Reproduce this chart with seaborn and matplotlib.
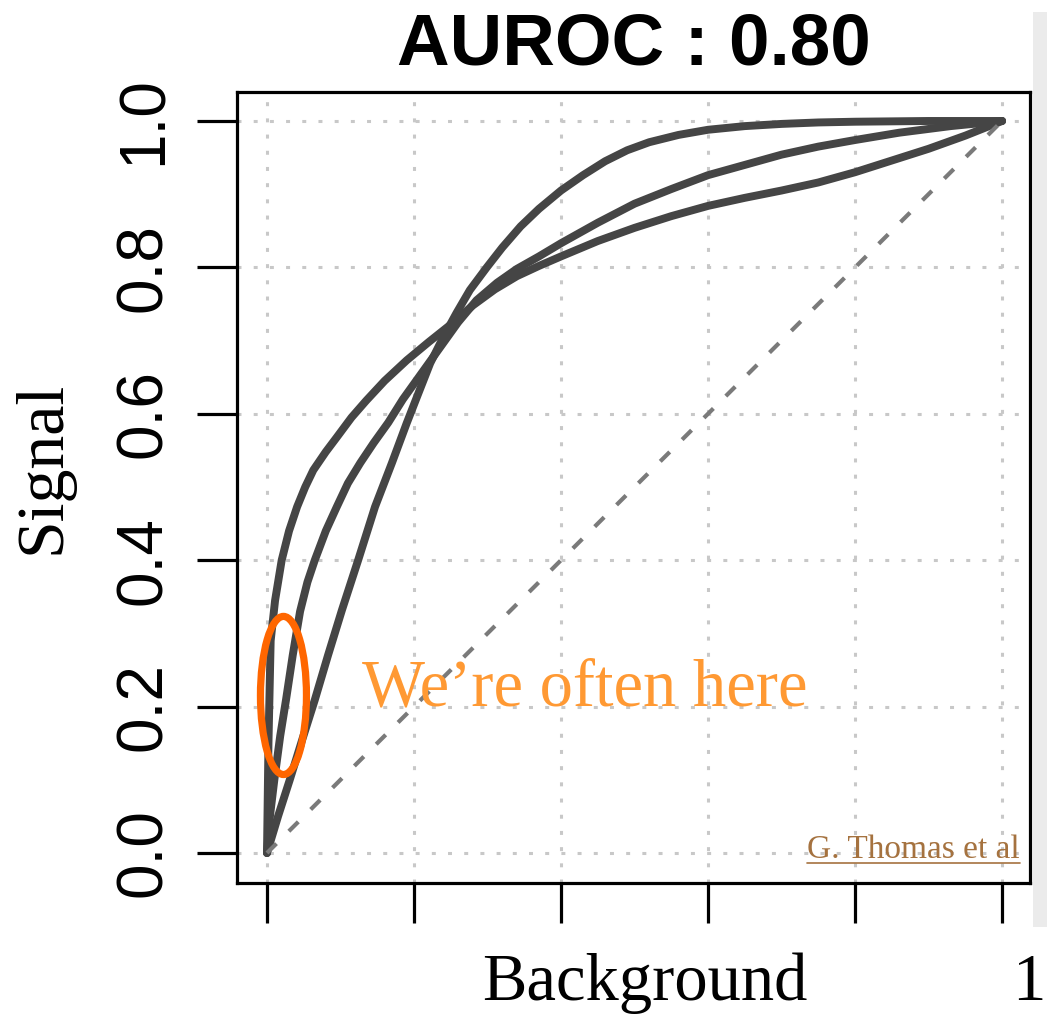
import pandas as pd
import seaborn as sns
import matplotlib.pyplot as plt
from matplotlib.patches import Ellipse, Rectangle
from matplotlib.lines import Line2D

# ROC curves (background efficiency vs signal efficiency), all with AUROC 0.80
fpr_steep = [0.0, 0.002, 0.005, 0.011, 0.020, 0.030, 0.041, 0.052, 0.063, 0.080,
             0.095, 0.115, 0.135, 0.160, 0.190, 0.220, 0.250, 0.280, 0.310, 0.340,
             0.370, 0.400, 0.450, 0.500, 0.550, 0.600, 0.650, 0.700, 0.750, 0.800,
             0.850, 0.900, 0.950, 1.0]
tpr_steep = [0.0, 0.150, 0.290, 0.345, 0.400, 0.440, 0.473, 0.500, 0.523, 0.548,
             0.568, 0.595, 0.618, 0.645, 0.673, 0.698, 0.722, 0.748, 0.770, 0.788,
             0.802, 0.815, 0.836, 0.854, 0.870, 0.884, 0.895, 0.905, 0.916, 0.930,
             0.946, 0.962, 0.980, 1.0]

fpr_mid = [0.0, 0.004, 0.010, 0.018, 0.026, 0.035, 0.045, 0.055, 0.065, 0.080,
           0.095, 0.110, 0.127, 0.145, 0.165, 0.185, 0.210, 0.235, 0.260, 0.285,
           0.313, 0.340, 0.370, 0.400, 0.450, 0.500, 0.550, 0.600, 0.650, 0.700,
           0.750, 0.800, 0.860, 0.930, 1.0]
tpr_mid = [0.0, 0.050, 0.100, 0.160, 0.210, 0.270, 0.330, 0.370, 0.400, 0.440,
           0.473, 0.505, 0.533, 0.560, 0.588, 0.620, 0.655, 0.690, 0.725, 0.755,
           0.779, 0.798, 0.815, 0.833, 0.861, 0.887, 0.907, 0.926, 0.940, 0.954,
           0.965, 0.974, 0.984, 0.993, 1.0]

fpr_late = [0.0, 0.015, 0.031, 0.048, 0.065, 0.083, 0.102, 0.124, 0.147, 0.170,
            0.190, 0.204, 0.222, 0.240, 0.258, 0.276, 0.299, 0.320, 0.345, 0.370,
            0.400, 0.430, 0.460, 0.490, 0.520, 0.560, 0.600, 0.650, 0.700, 0.750,
            0.800, 0.900, 1.0]
tpr_late = [0.0, 0.050, 0.100, 0.155, 0.209, 0.270, 0.332, 0.400, 0.473, 0.533,
            0.587, 0.623, 0.669, 0.705, 0.738, 0.769, 0.800, 0.827, 0.856, 0.880,
            0.905, 0.926, 0.945, 0.960, 0.971, 0.981, 0.988, 0.993, 0.996, 0.998,
            0.999, 1.0, 1.0]

chance_x = [0.0, 1.0]
chance_y = [0.0, 1.0]

tick_vals = [0.0, 0.2, 0.4, 0.6, 0.8, 1.0]
ytick_labels = ["0.0", "0.2", "0.4", "0.6", "0.8", "1.0"]

title_text = "AUROC : 0.80"
note_text = "We\u2019re often here"
credit_text = "G. Thomas et al"

sns.set_style("ticks", rc={"text.color": "black", "axes.labelcolor": "black",
                           "xtick.color": "black", "ytick.color": "black",
                           "axes.edgecolor": "black"})
plt.rcParams["font.family"] = ["Liberation Sans", "DejaVu Sans"]

W, H = 1047, 1018
fig = plt.figure(figsize=(W / 100, H / 100), dpi=100)
ax = fig.add_axes([237 / W, 1 - 883 / H, (1030 - 237) / W, (883 - 92) / H])

curve_color = "#454545"
for fx, ty in [(fpr_steep, tpr_steep), (fpr_mid, tpr_mid), (fpr_late, tpr_late)]:
    df = pd.DataFrame({"Background": fx, "Signal": ty})
    sns.lineplot(data=df, x="Background", y="Signal", sort=False, estimator=None,
                 color=curve_color, linewidth=5.7, ax=ax,
                 solid_capstyle="round", solid_joinstyle="round")

sns.lineplot(x=chance_x, y=chance_y, ax=ax, color="#7A7A7A", linewidth=3.0,
             linestyle=(0, (3.2, 4.2)), estimator=None)

ax.set_xlim(-0.0408, 1.038)
ax.set_ylim(-0.041, 1.0396)
ax.set_xticks(tick_vals)
ax.set_xticklabels([])
ax.set_yticks(tick_vals)
ax.set_yticklabels(ytick_labels, rotation=90, va="center", fontsize=46,
                   color="black")
ax.set_xlabel("")
ax.set_ylabel("")

ax.set_axisbelow(True)
ax.grid(True, color="#C8C8C8", linewidth=2.2, linestyle=(0, (1.3, 4.0)))

for sp in ax.spines.values():
    sp.set_visible(True)
    sp.set_color("black")
    sp.set_linewidth(2.3)
ax.tick_params(axis="both", direction="out", length=29, width=2.3, color="black")
ax.tick_params(axis="y", pad=16)

ax.set_title(title_text, fontsize=52.5, fontweight="bold", pad=19.5,
             color="black", family=["Liberation Sans", "DejaVu Sans"])

# highlight of the low-background region
ax.add_patch(Ellipse((0.0224, 0.2152), 0.0626, 0.216, fill=False,
                     edgecolor="#FF6600", linewidth=5.2, zorder=5))
ax.text(0.129, 0.202, note_text, color="#FF9933", fontsize=48,
        family=["Liberation Serif", "DejaVu Serif"], va="baseline", ha="left",
        zorder=6)

credit = ax.text(1.0245, -0.0068, credit_text, color="#A5723F", fontsize=24,
                 family=["Liberation Serif", "DejaVu Serif"], va="baseline",
                 ha="right", zorder=6)

serif = ["Liberation Serif", "DejaVu Serif"]
fig.text(645 / W, 1 - 1000 / H, "Background", fontsize=48, family=serif,
         ha="center", va="baseline", color="black")
fig.text(1046 / W, 1 - 1000 / H, "1", fontsize=48, family=serif,
         ha="right", va="baseline", color="black")
fig.text(43 / W, 1 - 467 / H, "Signal", fontsize=49, family=serif,
         rotation=90, ha="center", va="center", color="black")

# light panel edge on the right
fig.patches.append(Rectangle((1033 / W, 1 - 927 / H), 14 / W, (927 - 12) / H,
                             transform=fig.transFigure, facecolor="#EBEBEB",
                             edgecolor="none", zorder=0))

# underline the credit text
fig.canvas.draw()
bb = credit.get_window_extent()
uy = (H - 863) / H
fig.add_artist(Line2D([bb.x0 / W, bb.x1 / W], [uy, uy], transform=fig.transFigure,
                      color="#A5723F", linewidth=1.2))

fig.savefig("out.png", dpi=100)
